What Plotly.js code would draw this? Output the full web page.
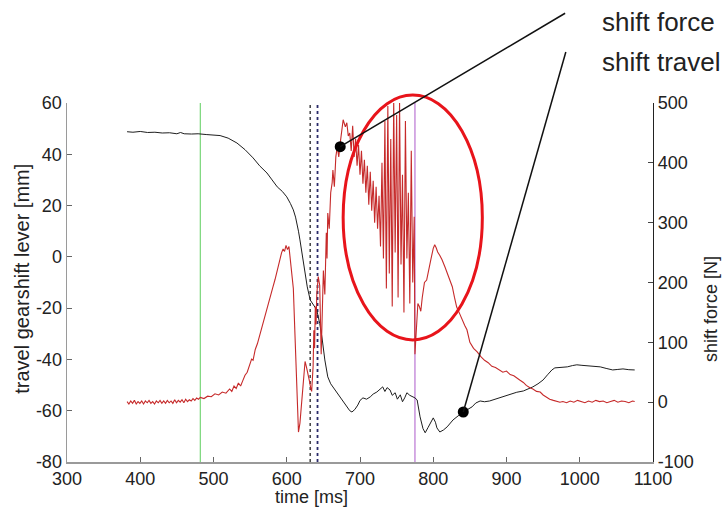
<!DOCTYPE html>
<html>
<head>
<meta charset="utf-8">
<script src="https://cdn.plot.ly/plotly-3.0.1.min.js"></script>
<style>
html,body{margin:0;padding:0;background:#fff;}
#chart{width:727px;height:509px;}
</style>
</head>
<body>
<div id="chart"></div>
<script>
// ---- data ----
const timeTravel = [382,390,400,410,420,430,440,450,455,460,470,479,490,500,509,520,532,543,554,563,573,580,587,594,600,605,609,612,614,616,618,620,622,625,628,632,636,641,645,648,652,656,660,663,668,673,678,682,686,689,693,697,700,704,709,714,718,723,727,731,734,737,741,744,748,751,755,758,761,764,768,772,775,778,782,786,789,793,796,800,803,805,809,814,819,823,827,834,841,847,853,858,864,870,877,884,891,898,905,914,923,930,936,943,950,956,962,966,975,983,990,996,1003,1010,1020,1028,1036,1045,1052,1059,1067,1075];
const travel = [48.8,48.6,48.9,48.5,48.6,48.3,48.4,48.0,48.5,48.0,47.9,48.0,47.7,47.6,47.3,46.3,44.4,41.8,38.6,35.5,32.7,30.0,27.3,25.5,23.4,20.8,18.3,15.5,13.2,10.0,6.6,3.0,-1.2,-5.0,-11.7,-16.8,-18.5,-20.7,-26.0,-31.2,-40.2,-46.8,-49.5,-50.7,-52.5,-54.6,-56.5,-58.5,-60.0,-60.5,-59.5,-57.8,-56.0,-55.0,-55.5,-54.6,-53.5,-52.7,-51.5,-50.7,-52.5,-51.0,-51.9,-54.0,-53.0,-55.5,-53.8,-56.5,-55.0,-53.0,-54.0,-54.6,-55.0,-55.8,-62.4,-67.0,-68.6,-66.5,-64.7,-62.8,-64.5,-66.7,-68.3,-67.5,-66.3,-65.0,-63.6,-62.0,-60.5,-59.5,-58.5,-57.0,-56.2,-56.5,-56.2,-55.5,-55.0,-54.3,-53.4,-52.8,-52.3,-51.5,-50.7,-49.5,-48.0,-46.0,-44.1,-43.3,-43.1,-42.9,-42.4,-42.1,-42.3,-42.5,-42.7,-42.9,-43.5,-44.1,-43.9,-43.7,-44.0,-44.1];

const timeForce = [382,384.5,387,389.5,392,394.5,397,399.5,402,404.5,407,409.5,412,414.5,417,419.5,422,424.5,427,429.5,432,434.5,437,439.5,442,444.5,447,449.5,452,454.5,457,459.5,462,464.5,467,469.5,472,474.5,477,479.5,
482,487,492,497,502,507,512,517,522,525,528,531,534,537,540,543,546,549,552,554,557,560,563,566,569,572,575,578,581,584,587,590,593,595,597,599,601,603,605,607,609,611,613,615,616,618,620,622,624,625,627,629,631,633,634,636,637,638,639,640,641,643,645,647,648,650,652,654,655,656,658,660,662,663,665,667,669,671,673,675,677,680,682,684,
686,688,690,692,694,696,698,700,702,704,706,708,710,712,714,716,718,720,722,724,726,728,730,732,734,736,738,740,742,744,746,748,750,752,754,756,758,760,762,764,766,768,770,772,774,775,777,779,781,783,785,788,791,794,797,800,802,804,806,809,812,816,819,822,826,829,832,836,839,843,846,850,855,860,865,870,875,880,885,890,895,900,905,910,914,918,923,927,932,936,941,946,950,955,959,964,968,973,977,982,987,992,997,1002,1007,1012,1017,1022,1027,1032,1037,1042,1047,1052,1057,1062,1067,1072,1075];
const force = [1,-3,2,-2,3,-3,1,-2,2,-3,2,-1,3,-2,1,-3,2,-1,3,-2,2,-2,3,-1,2,-2,4,-1,3,0,4,-1,5,1,4,2,6,3,7,5,
8,6,10,9,14,12,17,15,22,18,27,23,32,27,36,45,50,62,72,70,88,98,112,126,140,150,165,178,192,205,222,235,250,256,252,262,255,260,240,215,190,120,40,-30,-50,-35,-5,30,60,68,58,48,35,22,18,60,120,90,160,130,180,210,195,80,120,220,180,283,240,316,290,350,367,388,360,410,427,410,433,450,472,460,467,445,
450,420,462,410,440,395,430,380,420,365,405,350,395,330,385,320,370,300,360,290,345,260,400,240,470,190,495,215,440,160,505,250,480,175,500,230,380,150,470,240,350,165,420,200,310,80,120,165,160,152,175,200,204,225,240,257,263,258,251,245,238,226,216,205,193,175,159,148,138,128,121,100,90,84,76,70,66,60,58,54,50,52,46,44,40,37,33,28,24,22,18,17,12,8,5,3,2,0,1,-1,2,0,3,1,-1,2,0,3,1,2,-1,1,3,0,2,1,-1,2,1];

const xTickVals = [300,400,500,600,700,800,900,1000,1100];
const xTickText = ['300','400','500','600','700','800','900','1000','1100'];
const yTickVals = [-80,-60,-40,-20,0,20,40,60];
const yTickText = ['-80','-60','-40','-20','0','20','40','60'];
const y2TickVals = [-100,0,100,200,300,400,500];
const y2TickText = ['-100','0','100','200','300','400','500'];

// event markers (ms)
const greenLineT = 482;
const dottedBlackT = 632;
const dottedBlueT = 642;
const violetLineT = 775;

// annotation anchor points
const forceDot = {t: 673, v: 427};
const travelDot = {t: 841, v: -60.5};
const forceLeaderEnd = {t: 980, py: 1.25};
const travelLeaderEnd = {t: 981, py: 1.142};
const ellipse = {t0: 677, t1: 867, mm0: -32.4, mm1: 63.1};

const Y_RANGE = [-80, 60];
const Y2_RANGE = [-100, 500];
const pY = v => (v - Y_RANGE[0]) / (Y_RANGE[1] - Y_RANGE[0]);
const pY2 = v => (v - Y2_RANGE[0]) / (Y2_RANGE[1] - Y2_RANGE[0]);

const FONT = '"Liberation Sans", Arial, Helvetica, sans-serif';

const traces = [
  {x: timeTravel, y: travel, type: 'scatter', mode: 'lines', name: 'shift travel',
   line: {color: '#1e1e1e', width: 1}, yaxis: 'y'},
  {x: timeForce, y: force, type: 'scatter', mode: 'lines', name: 'shift force',
   line: {color: '#c62a2a', width: 1.1}, yaxis: 'y2'},
  {x: [forceDot.t], y: [forceDot.v], type: 'scatter', mode: 'markers', yaxis: 'y2',
   marker: {color: '#000', size: 11}, hoverinfo: 'skip'},
  {x: [travelDot.t], y: [travelDot.v], type: 'scatter', mode: 'markers', yaxis: 'y',
   marker: {color: '#000', size: 11}, hoverinfo: 'skip'}
];

const vline = (t, color, dash, width) => ({type: 'line', xref: 'x', yref: 'paper',
  x0: t, x1: t, y0: 0, y1: 1, line: {color: color, dash: dash, width: width}, layer: 'below'});

const shapes = [
  vline(greenLineT, '#78d678', 'solid', 1.2),
  vline(dottedBlackT, '#333', 'dot', 1.4),
  vline(dottedBlueT, '#2a2a6a', 'dot', 1.8),
  vline(violetLineT, '#c890dc', 'solid', 1.5),
  {type: 'circle', xref: 'x', yref: 'paper', x0: ellipse.t0, x1: ellipse.t1,
   y0: pY(ellipse.mm0), y1: pY(ellipse.mm1), line: {color: '#e8141b', width: 3}},
  {type: 'line', xref: 'x', yref: 'paper', x0: forceDot.t, y0: pY2(forceDot.v),
   x1: forceLeaderEnd.t, y1: forceLeaderEnd.py, line: {color: '#111', width: 1.5}},
  {type: 'line', xref: 'x', yref: 'paper', x0: travelDot.t, y0: pY(travelDot.v),
   x1: travelLeaderEnd.t, y1: travelLeaderEnd.py, line: {color: '#111', width: 1.5}}
];

const annotations = [
  {text: 'shift force', xref: 'paper', yref: 'paper', x: 0.909, y: 1.226,
   xanchor: 'left', yanchor: 'middle', showarrow: false, font: {size: 26, color: '#222', family: FONT}},
  {text: 'shift travel', xref: 'paper', yref: 'paper', x: 0.909, y: 1.114,
   xanchor: 'left', yanchor: 'middle', showarrow: false, font: {size: 26, color: '#222', family: FONT}},
  {text: 'time [ms]', xref: 'paper', yref: 'paper', x: 0.417, y: -0.097,
   xanchor: 'center', yanchor: 'middle', showarrow: false, font: {size: 18, color: '#222', family: FONT}},
  {text: 'travel gearshift lever [mm]', xref: 'paper', yref: 'paper', x: -0.077, y: 0.51,
   xanchor: 'center', yanchor: 'middle', textangle: -90, showarrow: false, font: {size: 20, color: '#222', family: FONT}},
  {text: 'shift force [N]', xref: 'paper', yref: 'paper', x: 1.1, y: 0.425,
   xanchor: 'center', yanchor: 'middle', textangle: -90, showarrow: false, font: {size: 18, color: '#222', family: FONT}}
];

const axisCommon = {ticks: 'inside', ticklen: 5, tickwidth: 1, showgrid: false, zeroline: false,
  showline: true, tickfont: {size: 18, color: '#222', family: FONT}};

const layout = {
  width: 727, height: 509,
  margin: {l: 67, r: 74, t: 103, b: 47, pad: 0},
  paper_bgcolor: '#fff', plot_bgcolor: '#fff',
  showlegend: false,
  font: {family: FONT, color: '#222'},
  xaxis: Object.assign({}, axisCommon, {range: [300, 1100], tickmode: 'array', tickvals: xTickVals,
    ticktext: xTickText, linecolor: '#9a9a9a', linewidth: 1.5, tickcolor: '#666'}),
  yaxis: Object.assign({}, axisCommon, {range: Y_RANGE, tickmode: 'array', tickvals: yTickVals,
    ticktext: yTickText, linecolor: '#9a9a9a', linewidth: 1.5, tickcolor: '#666'}),
  yaxis2: Object.assign({}, axisCommon, {range: Y2_RANGE, overlaying: 'y', side: 'right', tickmode: 'array',
    tickvals: y2TickVals, ticktext: y2TickText, linecolor: '#222', linewidth: 1.2, tickcolor: '#444'}),
  shapes: shapes,
  annotations: annotations
};

Plotly.newPlot('chart', traces, layout, {staticPlot: true, displayModeBar: false});
</script>
</body>
</html>
